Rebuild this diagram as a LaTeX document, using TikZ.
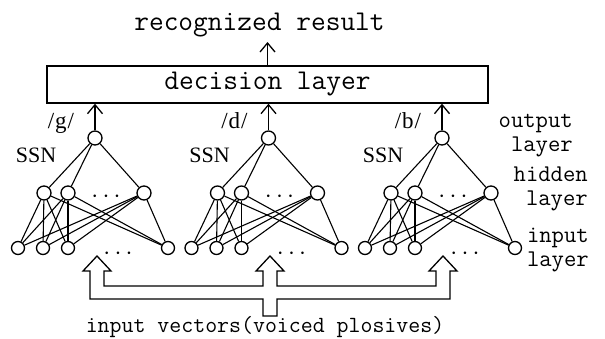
\documentclass[tikz,border=0pt]{standalone}
\usepackage{fontspec}
\newfontfamily\labelfont{Liberation Serif}
\usetikzlibrary{arrows.meta}

\tikzstyle{line} = [draw, line width=1.3pt, -{Straight Barb[length=9pt,width=15pt,line width=1.3pt]}]
\tikzstyle{unit} = [draw, circle, line width=1.3pt, inner sep=0pt, minimum size=14pt]
\tikzstyle{wire} = [draw, line width=1.1pt]
\tikzstyle{typed} = [font=\ttfamily\fontsize{24}{24}\selectfont, inner sep=0pt]
\tikzstyle{serif} = [font=\labelfont\fontsize{23}{23}\selectfont, inner sep=0pt, anchor=base]
\tikzstyle{dots} = [font=\fontsize{32}{32}\selectfont, inner sep=0pt]

\begin{document}
\begin{tikzpicture}[x=1pt, y=-1pt]
	\useasboundingbox (0,0) rectangle (605,338);

	\node[typed, font=\ttfamily\fontsize{28.6}{30}\selectfont, anchor=base] (res) at (259.5,30) {recognized result};
	\node[draw, line width=1.4pt, minimum width=441pt, minimum height=37pt, inner sep=0pt, font=\ttfamily\fontsize{28.6}{30}\selectfont] (dec) at (267.5,84.5) {decision layer}; % decision box
	\coordinate (top) at (267.5,42);
	\draw[line] (dec.north) -- (top);

	\foreach \k/\ph in {0/g, 1/d, 2/b}{
		\pgfmathsetmacro{\X}{95+173.5*\k}
		\node[unit] (o\k) at (\X,138) {}; % output
		\node[unit] (ha\k) at (\X-51,193) {}; \node[unit] (hb\k) at (\X-27,193) {}; \node[unit] (hc\k) at (\X+49,193) {}; % hidden
		\node[unit, minimum size=13pt] (ia\k) at (\X-77,248) {}; \node[unit, minimum size=13pt] (ib\k) at (\X-52,248) {};
		\node[unit, minimum size=13pt] (ic\k) at (\X-27,248) {}; \node[unit, minimum size=13pt] (id\k) at (\X+73,248) {}; % input
		\node[dots] (hdots\k) at (\X+11,197) {$\cdots$};
		\node[dots] (idots\k) at (\X+23,254) {$\cdots$};
		\foreach \h in {ha,hb,hc}{
			\draw[wire] (o\k) -- (\h\k);
			\foreach \i in {ia,ib,ic,id} \draw[wire] (\h\k) -- (\i\k);
		}
		\draw[line] (o\k) -- (o\k |- dec.south);
		\node[serif] (ph\k) at (\X-34,128) {/\kern1pt\ph\kern1pt/};
		\node[serif, font=\labelfont\fontsize{22}{22}\selectfont] (ssn\k) at (\X-59,162) {SSN};
	}

	\node[typed, align=right, anchor=base east] (outlbl) at (573,151) {output\\layer};
	\node[typed, align=right, anchor=base east] (hidlbl) at (588,205) {hidden\\layer};
	\node[typed, align=right, anchor=base east] (inlbl) at (589,266) {input\\layer};

	% hollow input arrows
	\draw[line width=1.3pt] (90,299) -- (90,271) -- (83,271) -- (97,256) -- (111,271) -- (104,271) -- (104,286)
		-- (263,286) -- (263,271) -- (256,271) -- (270,256) -- (284,271) -- (277,271) -- (277,286)
		-- (436,286) -- (436,271) -- (429,271) -- (443,256) -- (457,271) -- (450,271) -- (450,299)
		-- (277,299) -- (277,316) -- (263,316) -- (263,299) -- cycle;

	\node[typed, font=\ttfamily\fontsize{23.2}{24}\selectfont, anchor=base] (vec) at (265,332) {input vectors(voiced plosives)};

\end{tikzpicture}
\end{document}
